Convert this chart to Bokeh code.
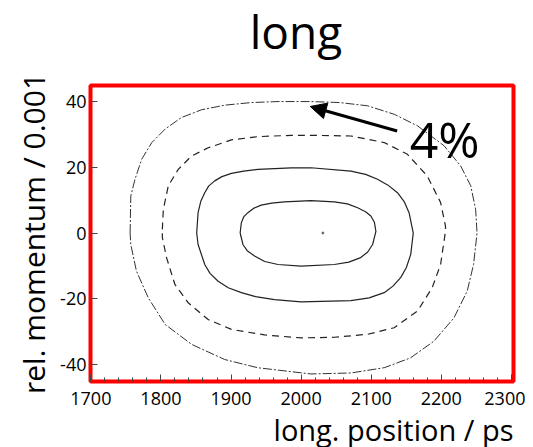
from bokeh.plotting import figure
from bokeh.layouts import column
from bokeh.models import Label, Arrow, NormalHead, FixedTicker, Title
from bokeh.embed import file_html
from bokeh.resources import INLINE

# ---- data ----
x_ticks = [1700, 1800, 1900, 2000, 2100, 2200, 2300]
x_tick_labels = ["1700", "1800", "1900", "2000", "2100", "2200", "2300"]
y_ticks = [-40, -20, 0, 20, 40]
y_tick_labels = ["-40", "-20", "0", "20", "40"]

# outer contour (dash-dot, 4%)
outer_x = [1756, 1757, 1763, 1772.5, 1787, 1806, 1829, 1858, 1891, 1929, 1967, 2014, 2055, 2095, 2133,
           2166, 2204, 2227.5, 2242, 2249, 2251, 2246, 2237, 2218, 2189.5, 2156, 2118.5, 2071, 2014,
           1938, 1891, 1844, 1806, 1782, 1765, 1757, 1756]
outer_y = [0, 11.3, 16.4, 22.5, 27.6, 31.7, 35.2, 37.6, 39.0, 39.8, 40.1, 40.1, 39.8, 38.8, 36.2,
           32.7, 26.6, 20.5, 14.4, 7.2, 0, -9.6, -17.7, -25.9, -33, -38.1, -41.1, -42.7, -43.0,
           -41.1, -38.6, -34, -27.9, -19.8, -11.6, -3.5, 0]

# dashed contour
dash_x = [1802, 1803.4, 1810.5, 1824.7, 1843.6, 1867.4, 1900.5, 1938.4, 1985.8, 2014, 2071, 2118.5,
          2151.7, 2180, 2199, 2206, 2206, 2199, 2187, 2166, 2132.7, 2094.8, 2047.4, 2000, 1947.8,
          1900.5, 1867.4, 1838.9, 1819.9, 1808, 1802, 1802]
dash_y = [1.1, 7.2, 14.4, 19.4, 23.5, 26, 28.4, 29.4, 29.8, 29.8, 29.6, 27.6, 24, 17.4, 9.3, 2.1,
          0.6, -9.6, -16.7, -23.8, -28.9, -30.9, -31.8, -32, -31.1, -29.4, -26.4, -21.3, -15.7,
          -7.5, -1.4, 1.1]

# middle solid contour
mid_x = [1851, 1853, 1857, 1862.5, 1868, 1876.7, 1887, 1900.5, 1918, 1938.4, 1985.8, 2014, 2071, 2092,
         2109, 2124, 2137.5, 2147, 2154, 2160, 2156.4, 2150, 2142, 2131, 2118.5, 2097, 2071, 2000,
         1962, 1935, 1914.7, 1896, 1881.6, 1870, 1862.5, 1853, 1851]
mid_y = [0, 6.2, 9.8, 12.3, 14.3, 15.9, 17.2, 18.2, 18.9, 19.4, 19.9, 19.9, 18.9, 17.9, 16.4, 14.6,
         12.3, 9.6, 6.2, 0, -6.5, -10.6, -13.6, -16.2, -18.2, -19.8, -20.6, -21, -20.3, -19.4,
         -18.2, -16.7, -14.7, -12.3, -9.6, -3.5, 0]

# inner solid contour
inner_x = [1913, 1914.7, 1918, 1924, 1932, 1943, 1958, 1976, 2014, 2047.4, 2066, 2080.6, 2092, 2099.5,
           2104.5, 2106.7, 2102, 2095, 2085, 2068, 2047.4, 2000, 1967, 1948, 1933.6, 1923, 1917, 1913]
inner_y = [0, 3.1, 4.9, 6.2, 7.5, 8.5, 9.1, 9.5, 9.9, 9.5, 8.9, 7.7, 6.5, 5.2, 3.3, 0.5, -3.5, -5.8,
           -7.5, -8.9, -9.6, -10.1, -9.6, -8.7, -7, -5.4, -3.5, 0]

center_x = [2031]
center_y = [0]

FONT = "Open Sans"
W = 525
TH = 60

# ---- title strip ----
t = figure(output_backend="svg", toolbar_location=None, width=W, height=TH,
           x_range=(0, W), y_range=(0, TH), min_border=0,
           x_axis_location=None, y_axis_location=None)
t.grid.visible = False
t.outline_line_color = None
t.background_fill_color = "white"
t.border_fill_color = "white"
t.add_layout(Label(x=255, y=30, text="long", text_font=FONT, text_font_size="46px",
                   text_color="black", text_align="center", text_baseline="alphabetic"))

# ---- main plot ----
p = figure(output_backend="svg", toolbar_location=None,
           frame_width=423, frame_height=296,
           min_border_left=90, min_border_top=25, min_border_right=12, min_border_bottom=62,
           x_range=(1699.5, 2303), y_range=(-45.3, 45.0))
p.background_fill_color = "white"
p.border_fill_color = "white"
p.grid.visible = False
p.outline_line_color = "#ff0000"
p.outline_line_width = 4

# axes
p.xaxis.ticker = FixedTicker(ticks=x_ticks, minor_ticks=list(range(1700, 2301, 20)))
p.xaxis.major_label_overrides = dict(zip(x_ticks, x_tick_labels))
p.yaxis.ticker = FixedTicker(ticks=y_ticks)
p.yaxis.major_label_overrides = dict(zip(y_ticks, y_tick_labels))
for ax in (p.xaxis, p.yaxis):
    ax.axis_line_color = None
    ax.major_tick_in = 7
    ax.major_tick_out = 0
    ax.major_tick_line_color = "#444444"
    ax.major_label_text_font = FONT
    ax.major_label_text_font_size = "18px"
    ax.major_label_text_color = "black"
p.xaxis.minor_tick_in = 4
p.xaxis.minor_tick_out = 0
p.xaxis.minor_tick_line_color = "#444444"
p.yaxis.minor_tick_line_color = None
p.xaxis.major_label_standoff = 10
p.yaxis.major_label_standoff = 4

# axis titles
p.add_layout(Title(text="long. position / ps", align="right", text_font=FONT,
                   text_font_size="29px", text_font_style="normal", text_color="black",
                   standoff=0), "below")
p.add_layout(Title(text="rel. momentum / 0.001", align="center", text_font=FONT,
                   text_font_size="30px", text_font_style="normal", text_color="black",
                   standoff=8), "left")

# contours
p.line(outer_x, outer_y, line_color="#333333", line_width=1, line_dash="9 2 2 2")
p.line(dash_x, dash_y, line_color="#222222", line_width=1.2, line_dash="7 5")
p.line(mid_x, mid_y, line_color="#222222", line_width=1.2)
p.line(inner_x, inner_y, line_color="#222222", line_width=1.2)
p.scatter(center_x, center_y, size=2, color="#666666")

# annotation arrow and label
p.add_layout(Arrow(end=NormalHead(size=16, fill_color="black", line_color="black"),
                   x_start=2137, y_start=31.1, x_end=2013, y_end=38.6,
                   line_width=3, line_color="black"))
p.add_layout(Label(x=2155, y=28.8, text="4%", text_font=FONT, text_font_size="50px",
                   text_color="black", text_align="left", text_baseline="alphabetic"))

layout = column(t, p, spacing=0)
open("out.html", "w").write(file_html(layout, INLINE))
